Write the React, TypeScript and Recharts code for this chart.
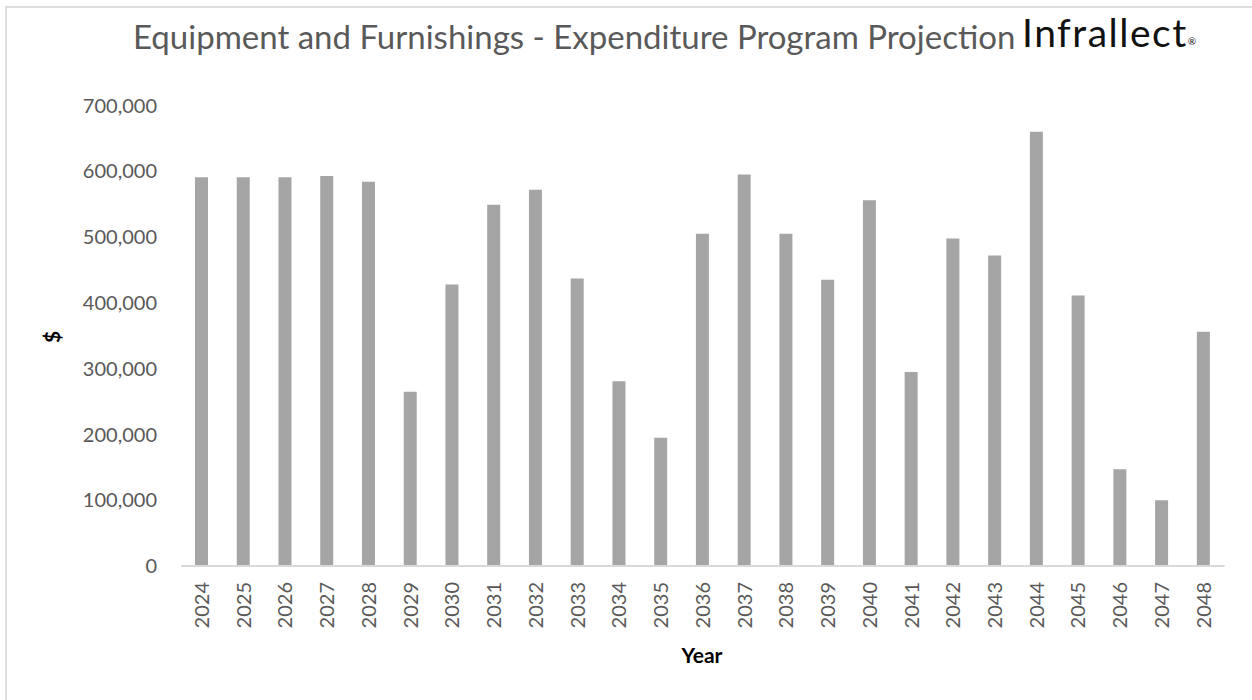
import React from "react";
import { BarChart, Bar, XAxis, YAxis } from "recharts";

const YEARS = [
  "2024", "2025", "2026", "2027", "2028", "2029", "2030", "2031", "2032",
  "2033", "2034", "2035", "2036", "2037", "2038", "2039", "2040", "2041",
  "2042", "2043", "2044", "2045", "2046", "2047", "2048",
];

const SPEND = [
  591000, 591000, 591000, 593000, 584000, 265000, 428000, 549000, 572000,
  437000, 281000, 195000, 505000, 595000, 505000, 435000, 556000, 295000,
  498000, 472000, 660000, 411000, 147000, 100000, 356000,
];

const Y_TICKS = [0, 100000, 200000, 300000, 400000, 500000, 600000, 700000];

const TITLE = "Equipment and Furnishings - Expenditure Program Projection";

const FONT = "Lato, 'Open Sans', sans-serif";

const data = YEARS.map((y, i) => ({ year: y, value: SPEND[i] }));

const YearTick = (props: any) => {
  const { x, y, payload } = props;
  return (
    <text
      transform={`translate(${x},${y}) rotate(-90)`}
      textAnchor="end"
      dy="0.35em"
      fill="#595959"
      fontSize={20}
      fontFamily={FONT}
    >
      {payload.value}
    </text>
  );
};

export default function App() {
  return (
    <div
      style={{
        position: "absolute",
        left: 0,
        top: 0,
        width: 1252,
        height: 700,
        overflow: "hidden",
        background: "#fff",
      }}
    >
      <div
        style={{
          position: "absolute",
          left: 5,
          top: 6,
          width: 1400,
          height: 900,
          border: "2px solid #dedede",
        }}
      />
      <div style={{ position: "absolute", left: 0, top: 0 }}>
        <BarChart
          width={1252}
          height={700}
          data={data}
          margin={{ top: 105.5, right: 27.4, bottom: 74, left: 0 }}
        >
          <XAxis
            dataKey="year"
            height={60}
            interval={0}
            tickLine={false}
            tickMargin={10}
            axisLine={{ stroke: "#d9d9d9", strokeWidth: 2 }}
            tick={<YearTick />}
          />
          <YAxis
            width={181}
            domain={[0, 700000]}
            ticks={Y_TICKS}
            tickLine={false}
            axisLine={false}
            tickMargin={18}
            tick={{ fill: "#595959", fontSize: 20, fontFamily: FONT }}
            tickFormatter={(v: number) => v.toLocaleString("en-US")}
          />
          <Bar dataKey="value" fill="#a5a5a5" barSize={13} isAnimationActive={false} />
        </BarChart>
      </div>
      <svg
        width={1252}
        height={700}
        style={{ position: "absolute", left: 0, top: 0, pointerEvents: "none" }}
      >
        <text x={133} y={49} fill="#595959" fontSize={33} fontFamily={FONT}>
          {TITLE}
        </text>
        <text
          x={1022}
          y={47}
          fill="#111"
          fontSize={39}
          letterSpacing={1.5}
          fontFamily={FONT}
        >
          Infrallect
          <tspan fontSize={10} dy={-2} letterSpacing={0}>®</tspan>
        </text>
        <text
          transform="translate(53,337) rotate(-90)"
          textAnchor="middle"
          dy="0.35em"
          fill="#000"
          fontSize={21}
          fontWeight="bold"
          fontFamily={FONT}
        >
          $
        </text>
        <text
          x={702}
          y={663}
          textAnchor="middle"
          fill="#000"
          fontSize={21}
          fontWeight="bold"
          fontFamily={FONT}
        >
          Year
        </text>
      </svg>
    </div>
  );
}
